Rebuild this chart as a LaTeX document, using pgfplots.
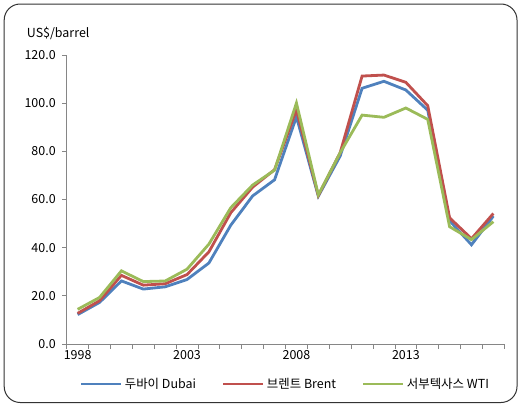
\documentclass[border=0pt]{standalone}
\usepackage{pgfplots}
\pgfplotsset{compat=1.18}
\usepackage{fontspec}
\setmainfont{Noto Sans CJK KR}
\definecolor{cdubai}{HTML}{4F81BD}
\definecolor{cbrent}{HTML}{C0504D}
\definecolor{cwti}{HTML}{9BBB59}
\definecolor{caxis}{HTML}{868686}
\begin{document}
\begin{tikzpicture}[x=1bp,y=1bp]
\useasboundingbox (-66.7,-62) rectangle (452.3,344);
\draw[line width=1bp, draw=black!80, rounded corners=16bp] (-62.5,-58.5) rectangle (450.3,340);
\begin{axis}[
  at={(0,0)}, anchor=south west,
  scale only axis, width=437.6bp, height=289bp,
  xmin=-0.5, xmax=19.5, ymin=0, ymax=120,
  axis lines*=left,
  axis line style={caxis, line width=0.8bp},
  xtick={-0.5,0.5,...,19.5}, xticklabels={},
  extra x ticks={0,5,10,15},
  extra x tick labels={1998,2003,2008,2013},
  extra x tick style={major tick length=0pt, tick label style={yshift=-2bp}},
  ytick={0,20,...,120},
  yticklabel={\pgfmathprintnumber[fixed,fixed zerofill,precision=1]{\tick}},
  tick style={caxis, line width=0.8bp},
  tick align=outside, major tick length=4.5bp,
  tick label style={font=\fontsize{12.5}{14}\selectfont, text=black},
  /pgf/number format/assume math mode=true,
  yticklabel style={xshift=-3bp},
  xticklabel style={yshift=-1bp},
  legend columns=3,
  legend style={at={(0.5,-40bp)}, anchor=center, draw=none, fill=none,
    font=\fontsize{12.5}{14}\selectfont, inner sep=0pt,
    /tikz/every even column/.append style={column sep=24bp}},
  legend image code/.code={\draw[#1] (0bp,0bp) -- (40bp,0bp);},
  every axis plot/.append style={line width=2.8bp, line join=miter},
  clip=false,
]
\addplot[cdubai] coordinates {(0,12.21)(1,17.25)(2,26.20)(3,22.81)(4,23.74)(5,26.78)(6,33.64)(7,49.35)(8,61.50)(9,68.19)(10,94.34)(11,61.39)(12,78.06)(13,106.18)(14,109.08)(15,105.47)(16,97.07)(17,51.20)(18,41.19)(19,53.13)};
\addplot[cbrent] coordinates {(0,12.72)(1,17.97)(2,28.50)(3,24.44)(4,25.02)(5,28.83)(6,38.27)(7,54.52)(8,65.14)(9,72.39)(10,97.26)(11,61.67)(12,79.50)(13,111.26)(14,111.67)(15,108.66)(16,98.95)(17,52.39)(18,43.73)(19,54.19)};
\addplot[cwti] coordinates {(0,14.39)(1,19.31)(2,30.37)(3,25.93)(4,26.16)(5,31.07)(6,41.49)(7,56.59)(8,66.02)(9,72.20)(10,100.06)(11,61.92)(12,79.45)(13,95.04)(14,94.13)(15,97.99)(16,93.28)(17,48.71)(18,43.34)(19,50.79)};
\legend{두바이 Dubai, 브렌트 Brent, 서부텍사스 WTI}
\end{axis}
\node[anchor=west, font=\fontsize{12.5}{14}\selectfont, inner sep=0pt] at (-40,311) {US\$/barrel};
\end{tikzpicture}
\end{document}
